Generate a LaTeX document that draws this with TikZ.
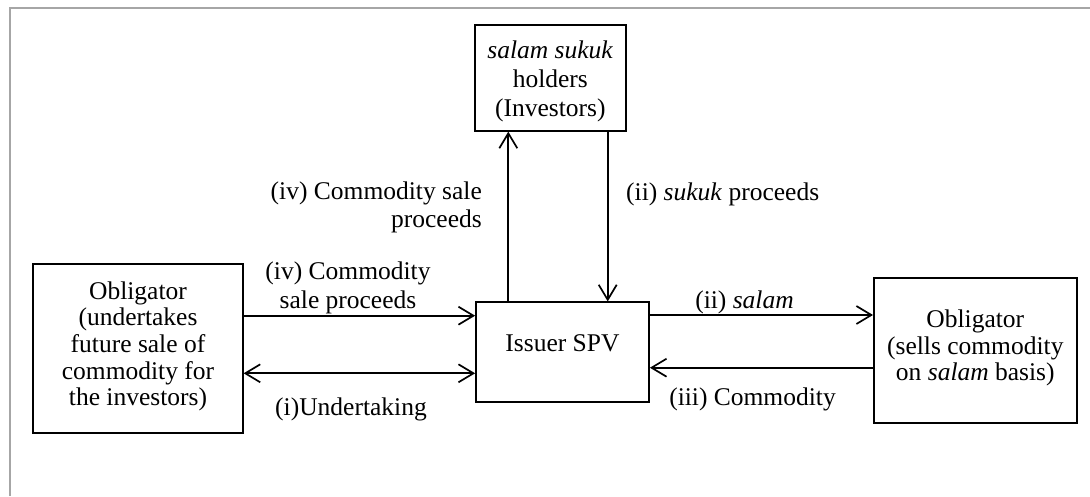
\documentclass[tikz,border=0pt]{standalone}
\usepackage{fontspec}
\setmainfont{Liberation Serif}
\usetikzlibrary{arrows.meta}
\begin{document}
\begin{tikzpicture}[x=1pt,y=-1pt,
  box/.style={draw, line width=1.8pt, align=center, inner sep=0pt, font=\fontsize{25.5}{26.7}\selectfont},
  lbl/.style={inner sep=0pt, font=\fontsize{25.5}{28.5}\selectfont},
  arr/.style={line width=1.7pt, -{Straight Barb[length=15pt,width=18pt]}},
  darr/.style={line width=1.7pt, {Straight Barb[length=15pt,width=18pt]}-{Straight Barb[length=15pt,width=18pt]}},
  frame/.style={draw=gray!70, line width=2pt}]
\useasboundingbox (0,0) rectangle (1090,496);
\draw[frame] (9.5,496) -- (9.5,7.8) -- (1090,7.8);

\node[box, minimum width=151.3pt, minimum height=106pt, font=\fontsize{25.5}{29.3}\selectfont] (inv) at (550.3,77.7)
  {\rule{0pt}{25.6pt}\textit{salam sukuk}\\holders\\(Investors)\rule[-6pt]{0pt}{6pt}};
\node[box, minimum width=173pt, minimum height=99.4pt] (spv) at (562.5,352)
  {\rule[-20.6pt]{0pt}{40.6pt}Issuer SPV};
\node[box, minimum width=209.4pt, minimum height=169pt] (lft) at (138,348.8)
  {\rule{0pt}{20pt}Obligator\\(undertakes\\future sale of\\commodity for\\the investors)\rule[-12.6pt]{0pt}{12.6pt}};
\node[box, minimum width=202.7pt, minimum height=144.4pt] (rgt) at (975.3,350.5)
  {\rule{0pt}{20pt}Obligator\\(sells commodity\\on \textit{salam} basis)\rule[-13pt]{0pt}{13pt}};

\coordinate (upA) at ([xshift=-54.2pt]spv.north);
\coordinate (dnA) at ([xshift=57.4pt]inv.south);
\coordinate (ivA) at ([yshift=33.1pt]lft.east);
\coordinate (iA) at ([yshift=-24.5pt]lft.east);
\coordinate (iiA) at ([yshift=37pt]spv.east);
\coordinate (iiiA) at ([yshift=-15.7pt]spv.east);

\draw[arr] (upA) -- (upA |- inv.south);
\draw[arr] (dnA) -- (dnA |- spv.north);
\draw[arr] (ivA) -- (ivA -| spv.west);
\draw[darr] (iA) -- (iA -| spv.west);
\draw[arr] (iiA) -- (iiA -| rgt.west);
\draw[arr] (iiiA -| rgt.west) -- (iiiA);

\node[lbl, align=right, anchor=east] (la) at (482,206.5)
  {\rule{0pt}{20pt}(iv) Commodity sale\\proceeds\rule[-6pt]{0pt}{6pt}};
\node[lbl, anchor=base west] (lb) at (626,200) {(ii) \textit{sukuk} proceeds};
\node[lbl, align=center] (lc) at (348,287.2)
  {\rule{0pt}{20pt}(iv) Commodity\\sale proceeds\rule[-6pt]{0pt}{6pt}};
\node[lbl, anchor=base] (ld) at (351,415.7) {(i)Undertaking};
\node[lbl, anchor=base] (le) at (744.5,308.3) {(ii) \textit{salam}};
\node[lbl, anchor=base] (lf) at (752.5,405) {(iii) Commodity};
\end{tikzpicture}
\end{document}
